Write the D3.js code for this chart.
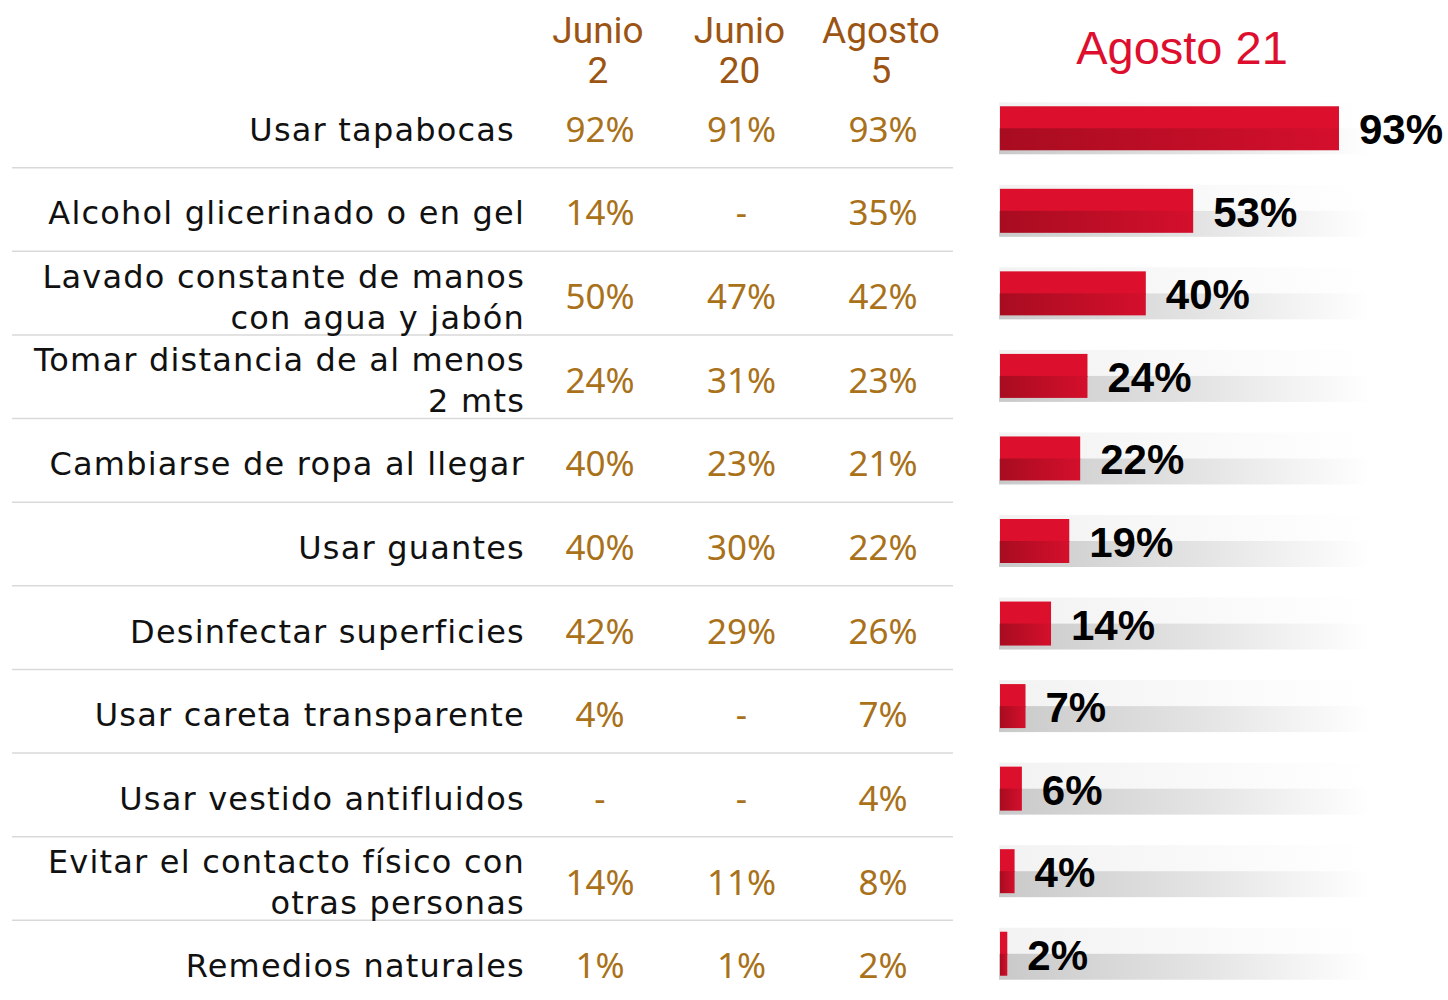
<!DOCTYPE html>
<html>
<head>
<meta charset="utf-8">
<script src="https://cdn.jsdelivr.net/npm/d3@7"></script>
<style>
  body { margin: 0; background: #fff; }
  svg { display: block; }
</style>
</head>
<body>
<div id="chart"></div>
<script>
// datos
const categories = [
  ['Usar tapabocas'],
  ['Alcohol glicerinado o en gel'],
  ['Lavado constante de manos', 'con agua y jabón'],
  ['Tomar distancia de al menos', '2 mts'],
  ['Cambiarse de ropa al llegar'],
  ['Usar guantes'],
  ['Desinfectar superficies'],
  ['Usar careta transparente'],
  ['Usar vestido antifluidos'],
  ['Evitar el contacto físico con', 'otras personas'],
  ['Remedios naturales']
];
const periods = [['Junio', '2'], ['Junio', '20'], ['Agosto', '5']];
const junio2 = ['92%', '14%', '50%', '24%', '40%', '40%', '42%', '4%', '-', '14%', '1%'];
const junio20 = ['91%', '-', '47%', '31%', '23%', '30%', '29%', '-', '-', '11%', '1%'];
const agosto5 = ['93%', '35%', '42%', '23%', '21%', '22%', '26%', '7%', '4%', '8%', '2%'];
const agosto21 = [93, 53, 40, 24, 22, 19, 14, 7, 6, 4, 2];
const barTitle = 'Agosto 21';

const W = 1448, H = 1000;
const labelFont = '"DejaVu Sans", "Noto Sans", sans-serif';
const valueFont = '"Noto Sans", "DejaVu Sans", sans-serif';

const svg = d3.select('#chart').append('svg').attr('width', W).attr('height', H);
const defs = svg.append('defs');

const gShade = defs.append('linearGradient').attr('id', 'shade');
gShade.append('stop').attr('offset', '0%').attr('stop-color', '#c9c9c9');
gShade.append('stop').attr('offset', '55%').attr('stop-color', '#e4e4e4');
gShade.append('stop').attr('offset', '100%').attr('stop-color', '#ffffff');

const gTop = defs.append('linearGradient').attr('id', 'shadeTop');
gTop.append('stop').attr('offset', '0%').attr('stop-color', '#f2f2f2');
gTop.append('stop').attr('offset', '100%').attr('stop-color', '#ffffff');

const gRed = defs.append('linearGradient').attr('id', 'redLow');
gRed.append('stop').attr('offset', '0%').attr('stop-color', '#a80c20');
gRed.append('stop').attr('offset', '100%').attr('stop-color', '#d40f2c');

const idx = d3.range(categories.length);

// filas de la tabla
const y = d3.scaleBand().domain(idx).range([87, 1007]);
// filas de las barras
const yBar = d3.scaleBand().domain(idx).range([87, 995]);
const x = d3.scaleLinear().domain([0, 100]).range([1000, 1364.5]);
const colX = d3.scalePoint().domain([0, 1, 2]).range([600, 883]);

// separadores
svg.append('g').selectAll('line').data(idx.slice(1)).join('line')
  .attr('x1', 12).attr('x2', 953)
  .attr('y1', d => y(d) - 3).attr('y2', d => y(d) - 3)
  .attr('stroke', '#d9d9d9').attr('stroke-width', 1.5);

// encabezados (una linea por texto)
const head = svg.append('g');
periods.forEach((p, i) => {
  p.forEach((s, j) => {
    head.append('text')
      .attr('x', colX(i) - 2).attr('y', 43 + j * 40)
      .attr('text-anchor', 'middle')
      .style('font-family', 'Roboto, sans-serif')
      .style('font-size', '37px')
      .style('fill', '#9c5413')
      .text(s);
  });
});

svg.append('text')
  .attr('x', 1182).attr('y', 64)
  .attr('text-anchor', 'middle')
  .style('font-family', '"Liberation Sans", Arial, sans-serif')
  .style('font-size', '47px')
  .style('fill', '#de0f2e')
  .text(barTitle);

// etiquetas de categoria
const rows = svg.append('g');
categories.forEach((lines, i) => {
  const cy = y(i) + y.bandwidth() / 2;
  lines.forEach((s, j) => {
    rows.append('text')
      .attr('text-anchor', 'end')
      .attr('x', i === 0 ? 515 : 525)
      .attr('y', cy + 12 + (j - (lines.length - 1) / 2) * 41)
      .style('font-family', labelFont)
      .style('font-size', '32px')
      .style('letter-spacing', '1.2px')
      .style('fill', '#111')
      .text(s);
  });
});

// valores de la tabla
[junio2, junio20, agosto5].forEach((col, c) => {
  svg.append('g').selectAll('text').data(col).join('text')
    .attr('x', colX(c)).attr('y', (d, i) => y(i) + y.bandwidth() / 2 + 13)
    .attr('text-anchor', 'middle')
    .style('font-family', valueFont)
    .style('font-size', '35px')
    .style('fill', '#a9711a')
    .text(d => d);
});

// barras
const bars = svg.append('g').selectAll('g').data(agosto21).join('g')
  .attr('transform', (d, i) => `translate(0,${yBar(i) + yBar.bandwidth() / 2})`);

bars.append('rect')
  .attr('x', 999).attr('y', -26).attr('width', 372).attr('height', 26)
  .attr('fill', 'url(#shadeTop)');
bars.append('rect')
  .attr('x', 999).attr('y', 0).attr('width', 372).attr('height', 26)
  .attr('fill', 'url(#shade)');
bars.append('rect')
  .attr('x', x(0)).attr('y', -22).attr('width', d => x(d) - x(0)).attr('height', 23)
  .attr('fill', '#dc0f2d');
bars.append('rect')
  .attr('x', x(0)).attr('y', 0).attr('width', d => x(d) - x(0)).attr('height', 22)
  .attr('fill', 'url(#redLow)');

bars.append('text')
  .attr('x', d => x(d) + 20).attr('y', 16)
  .style('font-family', '"Liberation Sans", Arial, sans-serif')
  .style('font-weight', 'bold')
  .style('font-size', '42px')
  .style('fill', '#000')
  .text(d => d + '%');
</script>
</body>
</html>
